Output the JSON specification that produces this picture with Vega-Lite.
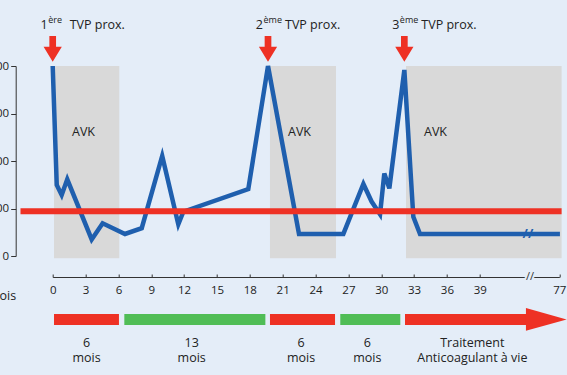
{
  "$schema": "https://vega.github.io/schema/vega-lite/v6.json",
  "width": 506.6,
  "height": 190,
  "autosize": {"type": "none"},
  "padding": {"left": 52.7, "top": 66, "right": 7.7, "bottom": 119},
  "background": "#e4edf8",
  "config": {
    "view": {"stroke": null},
    "font": "Open Sans",
    "axis": {"labelFont": "Open Sans", "titleFont": "Open Sans", "labelColor": "#222", "titleColor": "#222", "domainColor": "#333", "tickColor": "#333", "grid": false, "labelOverlap": false},
    "axisX": {"labelOverlap": false, "labelFlush": false}
  },
  "datasets": {
    "avk": [
      {"start": 0.12, "end": 6.08, "label": "AVK"},
      {"start": 19.84, "end": 25.87, "label": "AVK"},
      {"start": 32.26, "end": 78.1, "label": "AVK"}
    ],
    "ddim": [
      {"month": 0, "value": 2000},
      {"month": 0.37, "value": 747},
      {"month": 0.82, "value": 642},
      {"month": 1.33, "value": 807},
      {"month": 3.56, "value": 174},
      {"month": 4.56, "value": 344},
      {"month": 6.6, "value": 232},
      {"month": 8.13, "value": 293},
      {"month": 10.0, "value": 1053},
      {"month": 11.47, "value": 334},
      {"month": 11.93, "value": 466},
      {"month": 17.86, "value": 705},
      {"month": 19.66, "value": 2000},
      {"month": 22.49, "value": 232},
      {"month": 26.54, "value": 232},
      {"month": 28.37, "value": 758},
      {"month": 29.12, "value": 573},
      {"month": 29.89, "value": 439},
      {"month": 30.28, "value": 868},
      {"month": 30.74, "value": 712},
      {"month": 32.11, "value": 1958},
      {"month": 32.93, "value": 412},
      {"month": 33.54, "value": 232},
      {"month": 77.3, "value": 232}
    ],
    "seuil": [{"start": -2.94, "end": 78.1, "value": 470}],
    "events": [
      {"month": 0, "num": "1", "sup": "ère"},
      {"month": 19.66, "num": "2", "sup": "ème"},
      {"month": 32.11, "num": "3", "sup": "ème"}
    ],
    "phases": [
      {"start": 0.12, "end": 6.05, "mid": 3.09, "phase": "traitement", "label": "6\nmois"},
      {"start": 6.54, "end": 19.42, "mid": 12.69, "phase": "arrêt", "label": "13\nmois"},
      {"start": 19.84, "end": 25.78, "mid": 22.68, "phase": "traitement", "label": "6\nmois"},
      {"start": 26.26, "end": 31.74, "mid": 28.73, "phase": "arrêt", "label": "6\nmois"},
      {"start": 32.17, "end": 62, "tip": 80.5, "mid": 38.32, "phase": "traitement", "label": "Traitement\nAnticoagulant à vie"}
    ],
    "one": [{}]
  },
  "layer": [
    {
      "data": {"name": "avk"},
      "mark": {"type": "rect", "color": "#d9d9d9"},
      "encoding": {
        "x": {
          "field": "start", "type": "quantitative",
          "scale": {"domain": [0, 39, 77], "range": [0, 427.1, 506.6], "nice": false, "zero": false},
          "axis": {
            "values": [0, 3, 6, 9, 12, 15, 18, 21, 24, 27, 30, 33, 36, 39, 77],
            "tickCount": 30,
            "title": "mois", "titleX": -37, "titleY": 22, "titleAlign": "right", "titleBaseline": "alphabetic",
            "titleFontWeight": "normal", "titleFontSize": 12.5, "titleAngle": 0,
            "offset": 21, "tickSize": -3, "labelPadding": 10, "labelFontSize": 11.5,
            "labelFlush": false, "labelOverlap": false, "domainWidth": 1, "tickWidth": 1
          }
        },
        "x2": {"field": "end"},
        "y": {
          "datum": -24, "type": "quantitative",
          "scale": {"domain": [0, 2000], "nice": false, "zero": true},
          "axis": {
            "values": [0, 500, 1000, 1500, 2000], "tickCount": 10, "title": null, "offset": 37,
            "tickSize": 5, "labelPadding": 2, "labelFontSize": 11.5, "format": "d"
          }
        },
        "y2": {"datum": 2000}
      }
    },
    {
      "data": {"name": "avk"},
      "mark": {"type": "text", "align": "left", "baseline": "middle", "dx": 18, "fontSize": 12.5, "color": "#222"},
      "encoding": {
        "x": {"field": "start", "type": "quantitative"},
        "y": {"datum": 1310, "type": "quantitative"},
        "text": {"field": "label"}
      }
    },
    {
      "data": {"name": "ddim"},
      "mark": {"type": "line", "color": "#1f5fae", "strokeWidth": 4.5, "strokeJoin": "miter"},
      "encoding": {
        "x": {"field": "month", "type": "quantitative"},
        "y": {"field": "value", "type": "quantitative"}
      }
    },
    {
      "data": {"name": "seuil"},
      "mark": {"type": "rule", "color": "#ee3124", "strokeWidth": 6},
      "encoding": {
        "x": {"field": "start", "type": "quantitative"},
        "x2": {"field": "end"},
        "y": {"field": "value", "type": "quantitative"}
      }
    },
    {
      "data": {"name": "one"},
      "mark": {"type": "text", "text": "//", "fontSize": 13, "fontWeight": "bold", "color": "#1f5fae", "align": "center", "baseline": "middle"},
      "encoding": {
        "x": {"datum": 62, "type": "quantitative"},
        "y": {"datum": 232, "type": "quantitative"}
      }
    },
    {
      "data": {"name": "events"},
      "mark": {"type": "point", "shape": "M-0.26,-1 L0.26,-1 L0.26,-0.17 L0.71,-0.17 L0,1 L-0.71,-0.17 L-0.26,-0.17 Z", "filled": true, "size": 660, "opacity": 1, "color": "#ee3124", "strokeWidth": 0},
      "encoding": {
        "x": {"field": "month", "type": "quantitative"},
        "y": {"datum": 2180, "type": "quantitative"}
      }
    },
    {
      "data": {"name": "events"},
      "mark": {"type": "text", "align": "right", "baseline": "alphabetic", "dx": -5, "fontSize": 12.5, "color": "#222"},
      "encoding": {
        "x": {"field": "month", "type": "quantitative"},
        "y": {"datum": 2386, "type": "quantitative"},
        "text": {"field": "num"}
      }
    },
    {
      "data": {"name": "events"},
      "mark": {"type": "text", "align": "left", "baseline": "alphabetic", "dx": -4.5, "dy": -6, "fontSize": 9, "color": "#222"},
      "encoding": {
        "x": {"field": "month", "type": "quantitative"},
        "y": {"datum": 2386, "type": "quantitative"},
        "text": {"field": "sup"}
      }
    },
    {
      "data": {"name": "events"},
      "mark": {"type": "text", "align": "left", "baseline": "alphabetic", "dx": 17, "fontSize": 12.5, "color": "#222", "text": "TVP prox."},
      "encoding": {
        "x": {"field": "month", "type": "quantitative"},
        "y": {"datum": 2386, "type": "quantitative"}
      }
    },
    {
      "data": {"name": "phases"},
      "mark": {"type": "rect"},
      "encoding": {
        "x": {"field": "start", "type": "quantitative"},
        "x2": {"field": "end"},
        "y": {"datum": -610.5, "type": "quantitative"},
        "y2": {"datum": -726},
        "color": {"field": "phase", "type": "nominal", "scale": {"domain": ["traitement", "arrêt"], "range": ["#ee3124", "#50bd56"]}, "legend": null}
      }
    },
    {
      "data": {"name": "phases"},
      "transform": [{"filter": "isValid(datum.tip)"}],
      "mark": {"type": "point", "shape": "M-2,-0.558 L0,0 L-2,0.558 Z", "filled": true, "size": 1656, "opacity": 1, "strokeWidth": 0},
      "encoding": {
        "x": {"field": "tip", "type": "quantitative"},
        "y": {"datum": -668, "type": "quantitative"},
        "color": {"field": "phase", "type": "nominal", "legend": null}
      }
    },
    {
      "data": {"name": "phases"},
      "mark": {"type": "text", "align": "center", "baseline": "alphabetic", "lineBreak": "\n", "lineHeight": 15.5, "fontSize": 12.5, "color": "#222"},
      "encoding": {
        "x": {"field": "mid", "type": "quantitative"},
        "y": {"datum": -955, "type": "quantitative"},
        "text": {"field": "label"}
      }
    },
    {
      "data": {"name": "one"},
      "mark": {"type": "text", "text": "//", "fontSize": 11, "color": "#333", "stroke": "#e4edf8", "strokeWidth": 4, "align": "center", "baseline": "middle"},
      "encoding": {
        "x": {"datum": 63, "type": "quantitative"},
        "y": {"datum": -221, "type": "quantitative"}
      }
    },
    {
      "data": {"name": "one"},
      "mark": {"type": "text", "text": "//", "fontSize": 11, "color": "#333", "align": "center", "baseline": "middle"},
      "encoding": {
        "x": {"datum": 63, "type": "quantitative"},
        "y": {"datum": -221, "type": "quantitative"}
      }
    }
  ]
}
